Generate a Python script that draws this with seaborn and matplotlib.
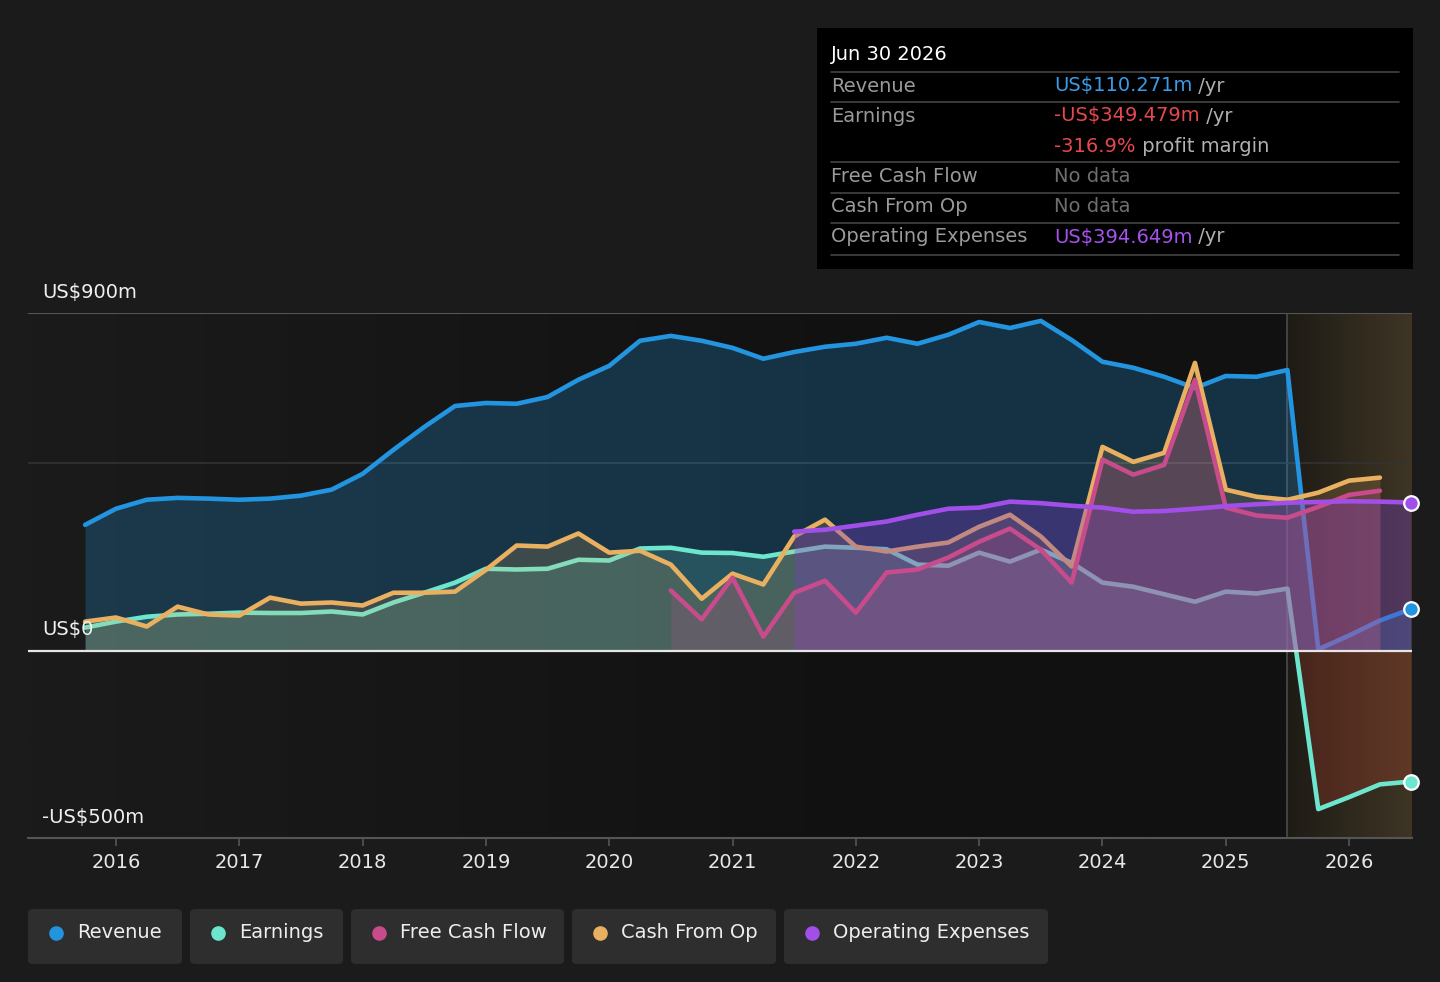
import numpy as np
import pandas as pd
import matplotlib
matplotlib.use("Agg")
import matplotlib.pyplot as plt
from matplotlib.patches import FancyBboxPatch, Rectangle
from matplotlib.lines import Line2D
import matplotlib.transforms as mtrans
import seaborn as sns

# ---------------- data (US$ m, quarterly, decimal year) ----------------
rev_x = [2015.75 + 0.25 * i for i in range(44)]
rev_y = [335, 378, 402, 407, 405, 402, 405, 413, 429, 471, 535, 596, 652, 660, 658, 676,
         722, 759, 826, 839, 826, 807, 778, 796, 810, 818, 834, 818, 842, 876, 860, 879,
         828, 770, 754, 730, 700, 732, 730, 748, 3, 40, 80, 110.271]

earn_x = rev_x
earn_y = [61, 77, 90, 96, 98, 101, 100, 100, 104, 96, 128, 154, 181, 218, 216, 218,
          242, 240, 272, 274, 261, 260, 250, 264, 277, 274, 270, 229, 226, 261, 237, 269,
          234, 181, 170, 150, 130, 157, 152, 165, -423, -391, -357, -349.479]

cfo_x = [2015.75 + 0.25 * i for i in range(43)]
cfo_y = [77, 88, 64, 117, 96, 93, 141, 125, 128, 120, 154, 154, 157, 215, 280, 277,
         312, 261, 266, 229, 138, 205, 176, 304, 349, 277, 264, 277, 288, 330, 362, 304,
         224, 543, 503, 527, 767, 429, 410, 402, 421, 453, 461]

fcf_x = [2020.5 + 0.25 * i for i in range(24)]
fcf_y = [160, 83, 194, 37, 154, 186, 101, 208, 216, 248, 290, 325, 269, 181, 509, 469,
         495, 722, 381, 360, 354, 383, 415, 426]

opex_x = [2021.5 + 0.25 * i for i in range(21)]
opex_y = [317, 322, 333, 344, 362, 378, 381, 397, 393, 386, 381, 370, 372, 378, 385,
          390, 394, 396, 398, 397, 394.649]

years = list(range(2016, 2027))
forecast_start = 2025.5

C_REV = "#2394df"
C_EARN = "#6de6cf"
C_FCF = "#c84b8c"
C_CFO = "#e8b060"
C_OPEX = "#a24ee8"

BG = "#1b1b1b"

sns.set_theme(style="dark")
plt.rcParams["font.family"] = ["DejaVu Sans"]

fig = plt.figure(figsize=(14.4, 9.82), dpi=100, facecolor=BG)
W, H = 1440, 982
def fx(px): return px / W
def fy(py): return 1 - py / H

ax = fig.add_axes([fx(28), fy(838), fx(1412) - fx(28), fy(313) - fy(838)])
ax.set_facecolor(BG)
XL = (2015.287, 2026.51)
YL = (-500, 900)
ax.set_xlim(*XL)
ax.set_ylim(*YL)

# background horizontal gradient
grad = np.linspace(0, 1, 256)
c0 = np.array([27, 27, 27]) / 255
c1 = np.array([17, 17, 17]) / 255
t = np.clip(grad * 1.6, 0, 1)
img = (c0[None, :] * (1 - t[:, None]) + c1[None, :] * t[:, None])[None, :, :]
ax.imshow(img, extent=[XL[0], XL[1], YL[0], YL[1]], aspect="auto", zorder=0, interpolation="bilinear")

# forecast region gradient
f0 = np.array([30, 27, 22]) / 255
f1 = np.array([62, 53, 36]) / 255
fimg = (f0[None, :] * (1 - grad[:, None]) + f1[None, :] * grad[:, None])[None, :, :]
ax.imshow(fimg, extent=[forecast_start, XL[1], YL[0], YL[1]], aspect="auto", zorder=0.5,
          interpolation="bilinear")
ax.axvline(forecast_start, color="#4a4a4a", lw=1.2, zorder=0.6)
ax.set_xlim(*XL)
ax.set_ylim(*YL)

# grid lines
ax.axhline(900, color="#555555", lw=1.5, zorder=1)
ax.axhline(500, color="#333333", lw=1.2, zorder=1)

rev = pd.DataFrame({"x": rev_x, "y": rev_y})
earn = pd.DataFrame({"x": earn_x, "y": earn_y})
cfo = pd.DataFrame({"x": cfo_x, "y": cfo_y})
fcf = pd.DataFrame({"x": fcf_x, "y": fcf_y})
opex = pd.DataFrame({"x": opex_x, "y": opex_y})

LW = 3.3
kw = dict(solid_joinstyle="round", solid_capstyle="round")

ax.fill_between(rev.x, rev.y, 0, color=C_REV, alpha=0.25, lw=0, zorder=2)
sns.lineplot(data=rev, x="x", y="y", ax=ax, color=C_REV, lw=LW, zorder=3, **kw)

ey = np.array(earn_y, dtype=float)
ax.fill_between(earn.x, ey, 0, where=ey >= 0, interpolate=True, color=C_EARN, alpha=0.18, lw=0, zorder=4)
ax.fill_between(earn.x, ey, 0, where=ey <= 0, interpolate=True, color="#d84530", alpha=0.22, lw=0, zorder=4)
sns.lineplot(data=earn, x="x", y="y", ax=ax, color=C_EARN, lw=LW, zorder=5, **kw)

ax.fill_between(cfo.x, cfo.y, 0, color=C_CFO, alpha=0.18, lw=0, zorder=6)
sns.lineplot(data=cfo, x="x", y="y", ax=ax, color=C_CFO, lw=LW, zorder=7, **kw)

ax.fill_between(opex.x, opex.y, 0, color="#7b3fc4", alpha=0.35, lw=0, zorder=8)

ax.fill_between(fcf.x, fcf.y, 0, color=C_FCF, alpha=0.2, lw=0, zorder=9)
sns.lineplot(data=fcf, x="x", y="y", ax=ax, color=C_FCF, lw=LW, zorder=10, **kw)

sns.lineplot(data=opex, x="x", y="y", ax=ax, color=C_OPEX, lw=LW, zorder=11, **kw)

ax.axhline(0, color="#e6e6e6", lw=1.6, zorder=12)

# end markers
for df, c in [(rev, C_REV), (earn, C_EARN), (opex, C_OPEX)]:
    ax.scatter([df.x.iloc[-1]], [df.y.iloc[-1]], s=110, color=c, edgecolor="white",
               linewidth=1.6, zorder=14, clip_on=False)

# axes styling
for s in ["top", "right", "left"]:
    ax.spines[s].set_visible(False)
ax.spines["bottom"].set_color("#555555")
ax.spines["bottom"].set_linewidth(1.5)
ax.set_xticks(years)
ax.set_xticklabels([str(y) for y in years], color="#e8e8e8", fontsize=14)
ax.tick_params(axis="x", length=6, width=1.2, color="#555555", pad=5, bottom=True)
ax.set_yticks([])
ax.set_xlabel("")
ax.set_ylabel("")
ax.grid(False)

# y labels
blend = mtrans.blended_transform_factory(ax.transAxes, ax.transData)
for val, lab in [(900, "US$900m"), (0, "US$0"), (-500, "-US$500m")]:
    ax.annotate(lab, xy=(0.0101, val), xycoords=blend, xytext=(0, 8), textcoords="offset points",
                ha="left", va="bottom", color="#f0f0f0", fontsize=14, zorder=13)

# ---------------- tooltip ----------------
fig.patches.append(Rectangle((fx(817), fy(269)), fx(1413) - fx(817), fy(28) - fy(269),
                             transform=fig.transFigure, facecolor="#000000", edgecolor="none", zorder=5))
fs = 14
fig.text(fx(831), fy(55), "Jun 30 2026", color="#ffffff", fontsize=fs, va="center", ha="left", zorder=6)
for yy in [72, 102, 162, 193, 223, 255]:
    fig.add_artist(Line2D([fx(831), fx(1399)], [fy(yy), fy(yy)], transform=fig.transFigure,
                          color="#444444", lw=1.2, zorder=6))

LBL = "#9a9a9a"
rows = [
    (86, "Revenue", [("US$110.271m", "#3a9be6"), (" /yr", "#b0b0b0")]),
    (116, "Earnings", [("-US$349.479m", "#e5484d"), (" /yr", "#b0b0b0")]),
    (146, "", [("-316.9%", "#e5484d"), (" profit margin", "#b0b0b0")]),
    (176, "Free Cash Flow", [("No data", "#6e6e6e")]),
    (207, "Cash From Op", [("No data", "#6e6e6e")]),
    (237, "Operating Expenses", [("US$394.649m", "#a553ea"), (" /yr", "#b0b0b0")]),
]
renderer = fig.canvas.get_renderer()
for yy, lab, parts in rows:
    if lab:
        fig.text(fx(831), fy(yy), lab, color=LBL, fontsize=fs, va="center", ha="left", zorder=6)
    xpos = 1054
    for txt, col in parts:
        tt = fig.text(fx(xpos), fy(yy), txt, color=col, fontsize=fs, va="center", ha="left", zorder=6)
        bb = tt.get_window_extent(renderer=renderer)
        xpos += bb.width

# ---------------- legend ----------------
legend_items = [
    ("Revenue", C_REV, 28, 182),
    ("Earnings", C_EARN, 190, 343),
    ("Free Cash Flow", C_FCF, 351, 564),
    ("Cash From Op", C_CFO, 572, 776),
    ("Operating Expenses", C_OPEX, 784, 1048),
]
for name, col, x0, x1 in legend_items:
    fig.patches.append(FancyBboxPatch((fx(x0), fy(964)), fx(x1) - fx(x0), fy(909) - fy(964),
                                      boxstyle="round,pad=0,rounding_size=0.004",
                                      transform=fig.transFigure, facecolor="#2e2e2e",
                                      edgecolor="none", zorder=1))
    fig.add_artist(Line2D([fx(x0 + 28)], [fy(933)], marker="o", markersize=9.5, color=col,
                          transform=fig.transFigure, lw=0, zorder=3))
    fig.text(fx(x0 + 49), fy(933), name, color="#eeeeee", fontsize=14, va="center", ha="left", zorder=3)

fig.savefig("out.png", dpi=100, facecolor=BG)
